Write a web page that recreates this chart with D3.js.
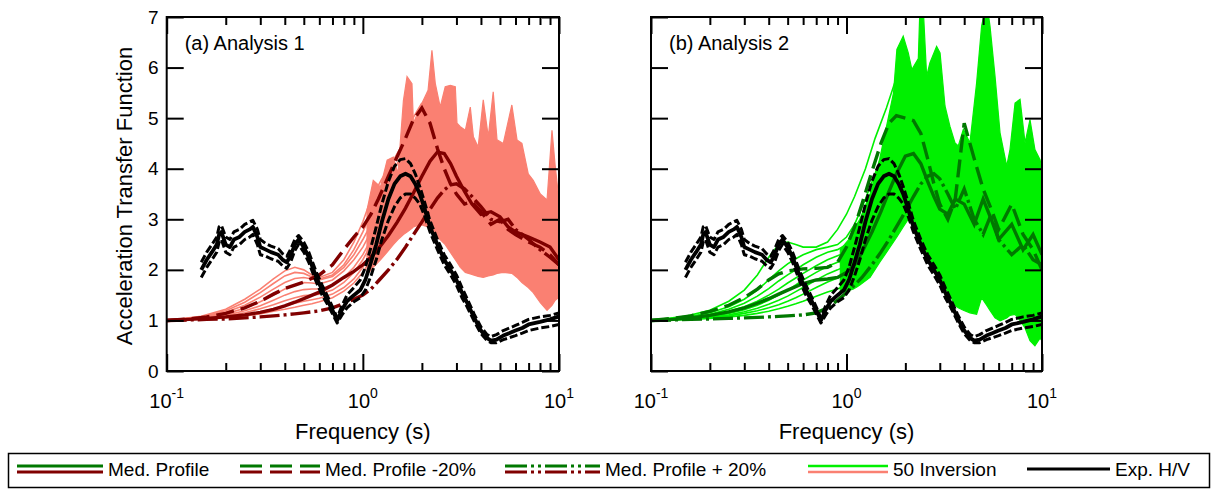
<!DOCTYPE html>
<html>
<head>
<meta charset="utf-8">
<script src="https://cdn.jsdelivr.net/npm/d3@7"></script>
<style>
  body { margin: 0; background: #fff; }
  svg { display: block; }
  text { font-family: "Liberation Sans", Arial, Helvetica, sans-serif; fill: #000; }
</style>
</head>
<body>
<svg id="chart" width="1217" height="495"></svg>
<script>
// ---------- data ----------
const yTicks = [0, 1, 2, 3, 4, 5, 6, 7];
const xMajor = [0.1, 1, 10];
const xMajorExp = ["-1", "0", "1"];
const xMinor = [0.2, 0.3, 0.4, 0.5, 0.6, 0.7, 0.8, 0.9, 2, 3, 4, 5, 6, 7, 8, 9];
const panelLabels = ["(a) Analysis 1", "(b) Analysis 2"];
const legendLabels = ["Med. Profile", "Med. Profile -20%", "Med. Profile + 20%", "50 Inversion", "Exp. H/V"];

// experimental H/V (mean and +/- bounds)
const hvFreq = [0.15,0.16,0.17,0.18,0.185,0.19,0.2,0.21,0.22,0.235,0.25,0.265,0.275,0.29,0.3,0.32,0.34,0.37,0.39,0.41,0.43,0.45,0.47,0.5,0.53,0.58,0.62,0.66,0.7,0.74,0.78,0.83,0.9,0.97,1.03,1.1,1.17,1.25,1.35,1.45,1.55,1.65,1.75,1.85,1.95,2.05,2.2,2.4,2.6,2.8,3.0,3.2,3.4,3.7,4.0,4.3,4.5,4.8,5.2,5.6,6.0,6.5,7.0,8.0,9.0,10];
const hvMean = [2.0,2.2,2.35,2.5,2.7,2.75,2.5,2.45,2.6,2.65,2.75,2.8,2.85,2.65,2.45,2.4,2.35,2.3,2.2,2.15,2.3,2.5,2.6,2.45,2.25,1.85,1.6,1.4,1.2,1.0,1.2,1.38,1.5,1.6,1.8,2.15,2.5,2.95,3.4,3.7,3.85,3.9,3.85,3.7,3.5,3.25,2.85,2.5,2.2,2.0,1.8,1.55,1.35,1.05,0.8,0.65,0.6,0.62,0.7,0.75,0.8,0.85,0.92,0.97,1.02,1.08];
const hvUpper = [2.15,2.35,2.5,2.65,2.85,2.88,2.65,2.6,2.75,2.8,2.9,2.95,2.98,2.8,2.6,2.52,2.47,2.42,2.32,2.27,2.42,2.6,2.68,2.55,2.35,1.95,1.7,1.48,1.27,1.05,1.28,1.5,1.65,1.8,2.05,2.45,2.85,3.3,3.75,4.05,4.18,4.2,4.1,3.9,3.65,3.38,2.97,2.6,2.3,2.1,1.9,1.65,1.43,1.12,0.87,0.72,0.68,0.72,0.8,0.85,0.9,0.96,1.02,1.07,1.1,1.15];
const hvLower = [1.85,2.05,2.2,2.35,2.55,2.6,2.35,2.3,2.45,2.5,2.6,2.65,2.7,2.5,2.3,2.27,2.22,2.17,2.08,2.03,2.17,2.38,2.5,2.35,2.15,1.75,1.5,1.32,1.13,0.95,1.1,1.25,1.37,1.45,1.6,1.88,2.2,2.6,2.98,3.25,3.42,3.5,3.5,3.42,3.3,3.1,2.75,2.4,2.1,1.9,1.7,1.45,1.27,0.98,0.74,0.6,0.56,0.56,0.62,0.66,0.7,0.75,0.8,0.85,0.88,0.92];

// median-profile transfer functions
const medFreq = [0.1,0.13,0.16,0.2,0.25,0.3,0.35,0.4,0.45,0.5,0.6,0.7,0.8,0.9,1.0,1.1,1.2,1.35,1.5,1.65,1.8,2.0,2.2,2.4,2.6,2.8,3.0,3.3,3.6,4.0,4.5,5.0,5.5,6.0,7.0,8.0,9.0,10.0];
const medA      = [1.0,1.02,1.04,1.07,1.11,1.16,1.22,1.29,1.36,1.43,1.56,1.7,1.85,1.97,2.1,2.25,2.42,2.68,2.95,3.22,3.5,3.85,4.15,4.33,4.3,4.1,3.85,3.55,3.3,3.1,3.15,3.05,2.85,2.75,2.65,2.55,2.45,2.2];
const medAMinus = [1.0,1.03,1.07,1.14,1.25,1.38,1.52,1.63,1.7,1.76,1.9,2.1,2.4,2.65,2.85,3.1,3.4,3.85,4.25,4.6,4.95,5.2,4.9,4.4,4.0,3.7,3.5,3.3,3.35,3.15,2.9,3.0,2.8,2.7,2.55,2.45,2.3,2.1];
const medAPlus  = [1.0,1.01,1.02,1.03,1.05,1.07,1.09,1.11,1.13,1.15,1.19,1.25,1.33,1.42,1.5,1.62,1.78,2.0,2.22,2.45,2.68,2.95,3.2,3.42,3.58,3.68,3.7,3.6,3.45,3.25,3.0,2.95,3.0,2.8,2.6,2.4,2.25,2.1];
const medB      = [1.0,1.02,1.05,1.1,1.17,1.25,1.34,1.43,1.52,1.6,1.73,1.8,1.82,1.85,1.95,2.1,2.35,2.75,3.15,3.55,3.9,4.25,4.3,4.1,3.75,3.45,3.2,3.1,3.4,3.3,2.9,3.4,3.0,2.6,2.9,2.4,2.7,2.3];
const medBMinus = [1.0,1.04,1.09,1.18,1.3,1.45,1.62,1.8,1.92,1.98,2.02,2.03,2.05,2.15,2.45,2.85,3.3,3.95,4.5,4.9,5.05,5.0,4.95,4.7,4.2,3.7,3.3,3.0,3.4,4.9,4.2,3.6,3.2,2.8,3.3,2.7,2.4,2.0];
const medBPlus  = [1.0,1.01,1.02,1.03,1.04,1.05,1.06,1.07,1.08,1.09,1.11,1.15,1.25,1.4,1.55,1.7,1.85,2.1,2.35,2.6,2.85,3.15,3.45,3.7,3.85,3.9,3.8,3.5,3.2,3.6,3.0,2.7,3.1,2.6,2.3,2.5,2.2,2.1];

// individual inversion results, low-frequency part
const invFreq = [0.1,0.15,0.2,0.25,0.3,0.35,0.4,0.45,0.5,0.55,0.6,0.7,0.8,0.9,1.0,1.1,1.25,1.4,1.6,1.8,2.0];
const invA1 = [1.0,1.08,1.22,1.42,1.62,1.82,1.98,2.05,2.0,1.9,1.85,1.95,2.2,2.55,2.95,3.4,3.8,4.1,4.5,5.0,5.3];
const invA2 = [1.0,1.07,1.19,1.36,1.55,1.73,1.88,1.95,1.93,1.86,1.82,1.9,2.1,2.4,2.75,3.1,3.5,3.9,4.3,4.7,5.0];
const invA3 = [1.0,1.06,1.16,1.3,1.46,1.62,1.75,1.83,1.85,1.82,1.8,1.87,2.05,2.3,2.6,2.9,3.3,3.65,4.1,4.5,4.8];
const invA4 = [1.0,1.05,1.13,1.24,1.37,1.5,1.62,1.7,1.75,1.74,1.72,1.8,1.98,2.2,2.45,2.75,3.15,3.5,3.9,4.3,4.5];
const invA5 = [1.0,1.04,1.1,1.19,1.29,1.4,1.5,1.57,1.61,1.62,1.62,1.7,1.85,2.05,2.3,2.6,3.0,3.35,3.75,4.1,4.3];
const invA6 = [1.0,1.03,1.08,1.15,1.23,1.31,1.39,1.45,1.49,1.5,1.52,1.6,1.75,1.95,2.2,2.5,2.85,3.2,3.6,3.9,4.1];
const invA7 = [1.0,1.03,1.06,1.11,1.17,1.23,1.29,1.34,1.38,1.41,1.44,1.52,1.65,1.82,2.05,2.3,2.65,3.0,3.4,3.7,3.9];
const invA8 = [1.0,1.02,1.05,1.09,1.13,1.18,1.22,1.26,1.3,1.33,1.37,1.45,1.58,1.74,1.95,2.2,2.55,2.9,3.25,3.5,3.7];
const invB1 = [1.0,1.08,1.2,1.38,1.6,1.9,2.25,2.5,2.55,2.5,2.45,2.45,2.55,2.8,3.1,3.45,4.0,4.6,5.2,5.8,6.2];
const invB2 = [1.0,1.06,1.15,1.27,1.42,1.6,1.8,1.98,2.12,2.22,2.3,2.4,2.45,2.5,2.65,2.9,3.4,3.9,4.5,5.1,5.6];
const invB3 = [1.0,1.05,1.12,1.22,1.34,1.48,1.63,1.78,1.9,2.0,2.1,2.25,2.35,2.4,2.5,2.7,3.1,3.6,4.2,4.7,5.2];
const invB4 = [1.0,1.04,1.1,1.18,1.27,1.38,1.5,1.62,1.74,1.84,1.93,2.08,2.2,2.28,2.35,2.5,2.85,3.3,3.9,4.4,4.8];
const invB5 = [1.0,1.03,1.08,1.14,1.21,1.3,1.4,1.5,1.6,1.7,1.8,1.95,2.07,2.15,2.22,2.35,2.65,3.05,3.6,4.1,4.5];
const invB6 = [1.0,1.03,1.06,1.11,1.17,1.24,1.32,1.4,1.48,1.57,1.65,1.8,1.92,2.0,2.08,2.2,2.5,2.85,3.35,3.8,4.2];
const invB7 = [1.0,1.02,1.05,1.09,1.14,1.19,1.25,1.31,1.38,1.45,1.52,1.65,1.76,1.84,1.92,2.05,2.3,2.65,3.1,3.5,3.9];
const invB8 = [1.0,1.02,1.04,1.07,1.1,1.14,1.18,1.23,1.28,1.33,1.38,1.48,1.56,1.62,1.7,1.82,2.05,2.4,2.8,3.2,3.5];

// envelope of the 50 inversions at higher frequency
const bandFreqA = [1.05,1.13,1.23,1.33,1.43,1.51,1.61,1.68,1.78,1.81,1.96,2.15,2.25,2.34,2.48,2.63,2.79,2.96,3.02,3.14,3.33,3.53,3.66,3.87,4.11,4.36,4.62,4.83,5.2,5.75,6.11,6.47,6.97,7.39,8.03,8.69,9.21,9.57,9.92,10];
const bandTopA  = [3.18,3.77,3.64,4.17,4.23,3.9,5.35,5.82,5.68,4.9,5.22,5.55,6.34,5.69,5.22,5.62,5.65,5.62,4.9,4.83,4.76,5.22,4.63,4.43,5.36,4.63,5.52,4.57,4.5,5.26,4.57,4.5,3.9,3.77,3.5,3.38,4.76,4.04,3.5,3.6];
const bandBotA  = [1.9,2.05,2.2,2.35,2.5,2.6,2.7,2.75,2.82,2.85,2.9,2.85,2.75,2.65,2.6,2.5,2.35,2.2,2.15,2.05,1.95,1.92,1.9,1.87,1.85,1.88,1.9,1.93,1.95,1.93,1.85,1.75,1.65,1.55,1.35,1.2,1.3,1.4,1.45,1.5];
const bandFreqB = [0.93,1.08,1.13,1.17,1.32,1.48,1.74,1.81,1.95,2.07,2.16,2.33,2.38,2.46,2.57,2.67,2.89,3.01,3.19,3.38,3.59,3.73,3.96,4.28,4.63,4.91,5.21,5.42,5.75,6.1,6.6,6.86,7.28,7.72,8.19,8.68,9.2,9.77,10];
const bandTopB  = [2.4,2.7,2.9,3.0,3.5,4.2,5.5,6.36,6.62,6.29,5.96,6.18,7.3,7.3,5.83,6.09,6.42,6.29,5.24,4.84,4.51,4.45,4.78,4.51,5.7,6.82,7.3,6.82,5.83,4.71,4.05,4.38,5.3,5.37,4.51,4.97,4.38,4.18,4.0];
const bandBotB  = [1.55,1.62,1.66,1.7,1.85,2.15,2.55,2.65,2.85,3.0,2.9,2.7,2.6,2.5,2.35,2.2,1.95,1.8,1.65,1.5,1.3,1.25,1.2,1.15,1.12,1.45,1.3,1.2,1.05,0.99,1.05,1.1,1.12,1.0,0.85,0.6,0.5,0.65,0.6];

// ---------- layout ----------
const svg = d3.select("#chart");
const plotTop = 17, plotBottom = 371;
const y = d3.scaleLinear().domain([0, 7]).range([plotBottom, plotTop]);

const colors = {
  salmon: "#fa8072", darkRed: "#800000",
  lime: "#00f000", darkGreen: "#007800", black: "#000"
};
const dashMed = "18,7";
const dashDot = "20,4,3,4";

const panels = [
  { left: 166.7, right: 559, label: panelLabels[0], showY: true,
    invColor: colors.salmon, medColor: colors.darkRed,
    curves: [invA1, invA2, invA3, invA4, invA5, invA6, invA7, invA8],
    band: [bandFreqA, bandTopA, bandBotA],
    meds: [medA, medAMinus, medAPlus] },
  { left: 651, right: 1042, label: panelLabels[1], showY: false,
    invColor: colors.lime, medColor: colors.darkGreen,
    curves: [invB1, invB2, invB3, invB4, invB5, invB6, invB7, invB8],
    band: [bandFreqB, bandTopB, bandBotB],
    meds: [medB, medBMinus, medBPlus] }
];

const defs = svg.append("defs");

panels.forEach((p, pi) => {
  const x = d3.scaleLog().domain([0.1, 10]).range([p.left, p.right]);
  const g = svg.append("g");
  const clipId = "clip" + pi;
  defs.append("clipPath").attr("id", clipId)
    .append("rect").attr("x", p.left).attr("y", plotTop)
    .attr("width", p.right - p.left).attr("height", plotBottom - plotTop);
  const plot = g.append("g").attr("clip-path", `url(#${clipId})`);

  const line = d3.line().x(d => x(d[0])).y(d => y(d[1]));

  // inversion envelope
  const [bf, bt, bb] = p.band;
  const area = d3.area()
    .x(i => x(bf[i])).y0(i => y(bb[i])).y1(i => y(bt[i]));
  plot.append("path").datum(d3.range(bf.length))
    .attr("d", area).attr("fill", p.invColor).attr("stroke", p.invColor).attr("stroke-width", 1.2);

  // individual inversion curves
  p.curves.forEach(c => {
    plot.append("path").datum(d3.zip(invFreq, c))
      .attr("d", line).attr("fill", "none")
      .attr("stroke", p.invColor).attr("stroke-width", 1.6);
  });

  // median profile curves
  const medStyles = [null, dashMed, dashDot];
  p.meds.forEach((m, mi) => {
    plot.append("path").datum(d3.zip(medFreq, m))
      .attr("d", line).attr("fill", "none")
      .attr("stroke", p.medColor).attr("stroke-width", 3.4)
      .attr("stroke-dasharray", medStyles[mi]);
  });

  // experimental H/V
  [[hvUpper, "8,3", 3], [hvLower, "8,3", 3], [hvMean, null, 3.8]].forEach(([v, dash, w]) => {
    plot.append("path").datum(d3.zip(hvFreq, v))
      .attr("d", line).attr("fill", "none")
      .attr("stroke", colors.black).attr("stroke-width", w)
      .attr("stroke-dasharray", dash).attr("stroke-linejoin", "round");
  });

  // axes (ticks pointing inward)
  const styleAxis = sel => {
    sel.select(".domain").remove();
    sel.selectAll(".tick line").attr("stroke", "#000").attr("stroke-width", 2);
    sel.attr("font-family", "Liberation Sans, Arial, sans-serif").attr("font-size", 19);
    sel.selectAll(".tick text").attr("fill", "#000");
  };
  g.append("g").attr("transform", `translate(${p.left},0)`)
    .call(d3.axisLeft(y).tickValues(yTicks).tickSize(-17).tickPadding(8)
      .tickFormat(p.showY ? d3.format("d") : () => ""))
    .call(styleAxis);
  g.append("g").attr("transform", `translate(${p.right},0)`)
    .call(d3.axisRight(y).tickValues(yTicks).tickSize(-17).tickFormat(() => ""))
    .call(styleAxis);
  g.append("g").attr("transform", `translate(0,${plotBottom})`)
    .call(d3.axisBottom(x).tickValues(xMajor).tickSize(-17).tickFormat(() => ""))
    .call(styleAxis);
  g.append("g").attr("transform", `translate(0,${plotBottom})`)
    .call(d3.axisBottom(x).tickValues(xMinor).tickSize(-8).tickFormat(() => ""))
    .call(styleAxis);
  g.append("g").attr("transform", `translate(0,${plotTop})`)
    .call(d3.axisTop(x).tickValues(xMajor).tickSize(-17).tickFormat(() => ""))
    .call(styleAxis);
  g.append("g").attr("transform", `translate(0,${plotTop})`)
    .call(d3.axisTop(x).tickValues(xMinor).tickSize(-8).tickFormat(() => ""))
    .call(styleAxis);

  // frame
  g.append("rect").attr("x", p.left).attr("y", plotTop)
    .attr("width", p.right - p.left).attr("height", plotBottom - plotTop)
    .attr("fill", "none").attr("stroke", "#000").attr("stroke-width", 2);

  // power-of-ten labels
  xMajor.forEach((v, i) => {
    const t = g.append("text").attr("x", x(v)).attr("y", 408)
      .attr("text-anchor", "middle").attr("font-size", 20);
    t.append("tspan").text("10");
    t.append("tspan").attr("dy", -10).attr("font-size", 14).text(xMajorExp[i]);
  });

  g.append("text").attr("x", (p.left + p.right) / 2).attr("y", 439)
    .attr("text-anchor", "middle").attr("font-size", 22).text("Frequency (s)");

  g.append("text").attr("x", p.left + 18).attr("y", 50)
    .attr("font-size", 20).text(p.label);
});

svg.append("text")
  .attr("transform", "translate(132,196) rotate(-90)")
  .attr("text-anchor", "middle").attr("font-size", 22)
  .text("Acceleration Transfer Function");

// ---------- legend ----------
const lg = svg.append("g");
lg.append("rect").attr("x", 8.5).attr("y", 453.5).attr("width", 1201).attr("height", 34)
  .attr("fill", "#fff").attr("stroke", "#000").attr("stroke-width", 1.5);

const legendX = [17, 240, 505, 808, 1027];
const legendLen = [86, 80, 95, 80, 83];
const pairs = [
  [colors.darkGreen, colors.darkRed, null, 3],
  [colors.darkGreen, colors.darkRed, "22,8", 3],
  [colors.darkGreen, colors.darkRed, "22,4,3,4,3,4", 3],
  [colors.lime, colors.salmon, null, 2.6]
];
legendLabels.forEach((lab, i) => {
  const x0 = legendX[i], x1 = x0 + legendLen[i];
  if (i < 4) {
    const [c1, c2, dash, w] = pairs[i];
    lg.append("line").attr("x1", x0).attr("x2", x1).attr("y1", 466).attr("y2", 466)
      .attr("stroke", c1).attr("stroke-width", w).attr("stroke-dasharray", dash);
    lg.append("line").attr("x1", x0).attr("x2", x1).attr("y1", 472).attr("y2", 472)
      .attr("stroke", c2).attr("stroke-width", w).attr("stroke-dasharray", dash);
  } else {
    lg.append("line").attr("x1", x0).attr("x2", x1).attr("y1", 469).attr("y2", 469)
      .attr("stroke", colors.black).attr("stroke-width", 3);
  }
  lg.append("text").attr("x", x1 + 5).attr("y", 476).attr("font-size", 19).text(lab);
});
</script>
</body>
</html>
